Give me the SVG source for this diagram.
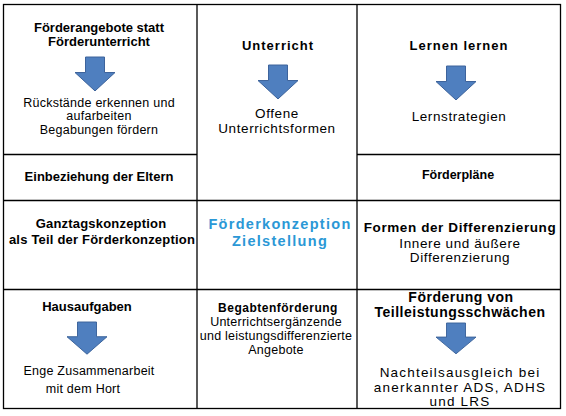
<svg xmlns="http://www.w3.org/2000/svg" width="566" height="416" viewBox="0 0 566 416">
<defs>
<style>
text{font-family:"Liberation Sans",Arial,sans-serif;text-anchor:middle;fill:#000}
.b{font-weight:bold;font-size:13px}
.bh{font-weight:bold;font-size:13px;letter-spacing:1px}
.r13{font-size:12.5px;letter-spacing:0.25px}
.r14{font-size:13.5px;letter-spacing:0.6px}
.r15{font-size:13.5px;letter-spacing:1.2px}
.ttl{font-weight:bold;font-size:14.5px;letter-spacing:1.3px;fill:#2b98d6}
.grid{stroke:#000;stroke-width:1.3;fill:none}
.arr{fill:#4f7fbf;stroke:#3b629a;stroke-width:1}
</style>
<path id="arrow" d="M-9.5,0 H9.5 V16 H20 L0,35 L-20,16 H-9.5 Z"/>
</defs>
<rect width="566" height="416" fill="#fff"/>
<g id="connectors">
<g class="grid">
<rect x="3.5" y="4.5" width="557" height="404"/>
<line x1="197" y1="4.5" x2="197" y2="408.5"/>
<line x1="357" y1="4.5" x2="357" y2="408.5"/>
<line x1="3.5" y1="154.5" x2="197" y2="154.5"/>
<line x1="357" y1="154.5" x2="560.5" y2="154.5"/>
<line x1="3.5" y1="200.5" x2="560.5" y2="200.5"/>
<line x1="3.5" y1="289.5" x2="560.5" y2="289.5"/>
</g>
</g>
<g id="foerderangebote">
<text class="b" x="99" y="32">Förderangebote statt</text>
<text class="b" x="99" y="46">Förderunterricht</text>
<use href="#arrow" class="arr" transform="translate(95,57) scale(1,0.97)"/>
<text class="r13" x="99" y="107">Rückstände erkennen und</text>
<text class="r13" x="99" y="120">aufarbeiten</text>
<text class="r13" x="99" y="134">Begabungen fördern</text>
</g>
<g id="unterricht">
<text class="bh" x="278" y="50">Unterricht</text>
<use href="#arrow" class="arr" transform="translate(278,65) scale(1,0.97)"/>
<text class="r14" x="277" y="118">Offene</text>
<text class="r14" x="277" y="133">Unterrichtsformen</text>
</g>
<g id="lernen">
<text class="bh" x="459" y="50">Lernen lernen</text>
<use href="#arrow" class="arr" transform="translate(456,66) scale(1,0.97)"/>
<text class="r14" x="459" y="121">Lernstrategien</text>
</g>
<g id="eltern">
<text class="b" x="99" y="181">Einbeziehung der Eltern</text>
</g>
<g id="foerderplaene">
<text class="b" x="458" y="179" style="font-size:12.5px">Förderpläne</text>
</g>
<g id="ganztag">
<text class="b" x="101" y="228" style="letter-spacing:0.2px">Ganztagskonzeption</text>
<text class="b" x="102" y="244" style="letter-spacing:0.2px">als Teil der Förderkonzeption</text>
</g>
<g id="zielstellung">
<text class="ttl" x="280" y="229">Förderkonzeption</text>
<text class="ttl" x="280" y="245.5">Zielstellung</text>
</g>
<g id="differenzierung">
<text class="b" x="460" y="232" style="font-size:13.5px;letter-spacing:0.6px">Formen der Differenzierung</text>
<text class="r14" x="460" y="248">Innere und äußere</text>
<text class="r14" x="460" y="262">Differenzierung</text>
</g>
<g id="hausaufgaben">
<text class="b" x="87" y="311">Hausaufgaben</text>
<use href="#arrow" class="arr" transform="translate(87,322) scale(1,0.92)"/>
<text class="r13" x="89" y="375">Enge Zusammenarbeit</text>
<text class="r13" x="83" y="393">mit dem Hort</text>
</g>
<g id="begabtenfoerderung">
<text class="b" x="278" y="312" style="font-size:12px;letter-spacing:0.5px">Begabtenförderung</text>
<text class="r13" x="276" y="326">Unterrichtsergänzende</text>
<text class="r13" x="276" y="340">und leistungsdifferenzierte</text>
<text class="r13" x="276" y="354">Angebote</text>
</g>
<g id="teilleistung">
<text class="b" x="461" y="302" style="font-size:14px;letter-spacing:0.5px">Förderung von</text>
<text class="b" x="460" y="317" style="font-size:14px;letter-spacing:0.5px">Teilleistungsschwächen</text>
<use href="#arrow" class="arr" transform="translate(456,323) scale(1,0.88)"/>
<text class="r15" x="460" y="377">Nachteilsausgleich bei</text>
<text class="r15" x="460" y="392">anerkannter ADS, ADHS</text>
<text class="r15" x="460" y="406">und LRS</text>
</g>
</svg>
